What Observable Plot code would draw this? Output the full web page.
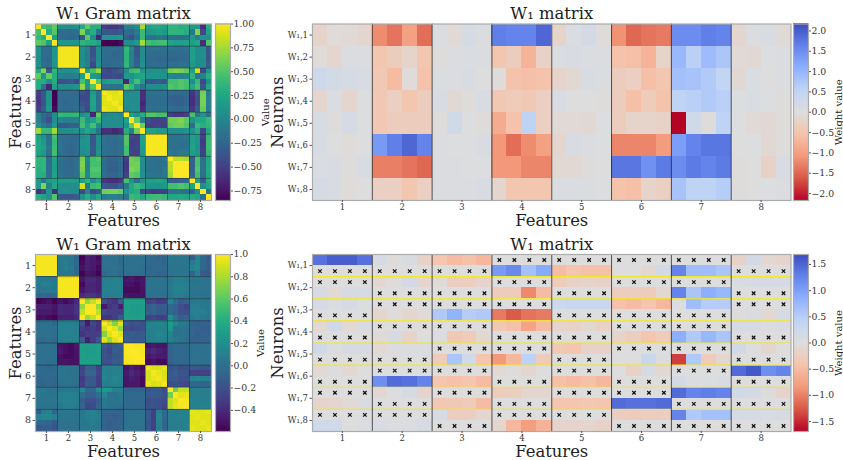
<!DOCTYPE html>
<html><head><meta charset="utf-8">
<script src="https://cdn.jsdelivr.net/npm/d3@7"></script>
<script src="https://cdn.jsdelivr.net/npm/@observablehq/plot@0.6"></script>
<style>
html,body{margin:0;padding:0;background:#fff}
#page{position:relative;width:843px;height:460px;overflow:hidden;font-family:"DejaVu Serif",serif}
#page svg{position:absolute;background:transparent}
</style></head><body><div id="page"></div>
<script>
const features = ["1","2","3","4","5","6","7","8"];
const neurons = ["W₁,1","W₁,2","W₁,3","W₁,4","W₁,5","W₁,6","W₁,7","W₁,8"];
const x = null;

// Gram matrices: lower triangle, in hundredths (the matrices are symmetric)
const gramTop = [
[100],
[45,100],
[40,30,100],
[55,50,20,100],
[8,-20,-20,12,97],
[8,-20,-22,12,97,97],
[6,-22,-25,12,97,97,97],
[8,-18,-22,10,97,97,97,97],
[25,65,-35,35,5,5,5,8,100],
[55,10,55,30,-5,-8,-8,-5,20,100],
[30,30,5,30,-40,-40,-35,-45,45,15,100],
[30,-15,-65,20,5,5,5,10,70,10,50,100],
[-50,-35,10,-85,-20,-20,-20,-22,-40,-45,15,-15,98],
[-55,-35,12,-85,-20,-22,-22,-20,-45,-45,20,-15,92,98],
[-55,-38,12,-85,-20,-25,-22,-20,-38,-42,22,-15,90,92,98],
[-50,-32,15,-80,-22,-22,-22,-20,-30,-45,20,-15,95,92,90,98],
[-5,-20,-30,5,38,35,35,38,5,15,-65,55,0,5,5,0,100],
[-5,-25,-40,5,0,-5,-5,-5,40,10,20,40,5,5,5,5,20,100],
[5,-10,-20,15,-35,-35,-30,-30,45,20,45,5,5,5,5,5,10,55,100],
[75,40,40,75,5,5,5,10,10,25,15,-15,-60,-60,-65,-60,30,-5,60,100],
[20,10,-15,45,-18,-20,-22,-22,5,10,-35,5,-15,-20,-20,-15,50,-45,-50,20,98],
[25,15,-15,40,-15,-20,-22,-20,10,12,-35,5,-15,-20,-22,-20,50,-50,-50,20,98,98],
[25,20,-12,42,-15,-22,-25,-20,8,10,-32,5,-18,-20,-20,-18,45,-50,-48,15,98,98,98],
[20,15,-15,45,-15,-20,-25,-20,5,10,-35,8,-15,-18,-20,-15,45,-48,-50,15,98,98,98,98],
[35,35,-20,22,-15,-22,-25,-18,60,0,45,50,-20,-28,-25,-20,-50,60,55,5,-15,-15,-18,-12,100],
[35,35,-20,18,-18,-22,-25,-18,65,-5,45,45,-22,-30,-28,-22,-55,60,60,5,-15,-15,-18,-15,80,100],
[30,35,-18,18,-18,-22,-22,-15,62,-5,50,50,-22,-30,-30,-22,-55,65,60,5,-15,-18,-18,-12,80,100,100],
[32,30,-18,22,-15,-20,-22,-15,55,0,45,45,-20,-25,-25,-20,-50,55,50,10,-12,-15,-15,-12,75,100,100,100],
[15,-10,15,20,18,18,18,15,20,35,5,25,-55,-60,-60,-55,45,10,-20,10,18,20,22,18,-30,-30,-28,-25,100],
[15,65,-5,25,5,5,5,5,88,-10,40,45,-35,-38,-38,-30,-10,25,40,30,10,10,8,12,45,45,50,45,20,100],
[-60,-45,10,-60,5,8,5,5,-45,-5,-45,-35,60,62,62,58,10,25,30,-45,-50,-55,-52,-50,-18,-15,-15,-18,-30,5,100],
[30,20,8,50,-35,-35,-35,-30,10,30,5,25,-8,-5,-5,-8,-15,40,35,25,40,42,42,38,25,25,28,25,30,25,-20,100]
];
const gramBottom = [
[98],
[98,98],
[98,98,98],
[98,98,98,98],
[5,5,5,3,98],
[5,8,8,5,98,98],
[3,3,5,3,98,98,98],
[-8,-5,-8,-5,98,98,98,98],
[-58,-55,-52,-58,-50,-55,-50,-40,100],
[-45,-45,-45,-50,-40,-42,-42,-35,75,100],
[-48,-48,-48,-52,-40,-42,-42,-35,85,100,100],
[-55,-52,-55,-58,-45,-45,-45,-40,100,75,85,100],
[-2,0,0,-5,8,10,10,8,-20,-48,-25,-35,100],
[-2,0,0,-2,10,10,10,8,-30,-35,-30,-35,88,100],
[0,0,0,-2,10,12,10,8,-35,-30,-30,-30,70,92,100],
[-5,-5,-2,-5,8,10,10,10,-15,-45,-30,-15,92,75,92,100],
[0,0,0,-2,-50,-52,-55,-50,32,30,30,32,-15,-22,-15,-12,100],
[0,0,0,-2,-48,-52,-55,-52,30,28,28,30,-20,-25,-12,-15,100,100],
[-2,0,0,-2,-52,-55,-55,-52,30,28,28,30,-18,-22,-15,-15,98,100,100],
[-2,0,-2,-2,-50,-50,-52,-52,32,30,30,32,-20,-20,-12,-15,98,98,100,100],
[-5,-5,-8,-5,2,2,2,0,-30,-12,-12,-28,10,10,10,8,-52,-45,-50,-55,95],
[-5,-5,-5,-5,2,2,0,0,-25,-8,-8,-25,12,8,10,10,-48,-40,-45,-52,90,98],
[-8,-5,-5,-8,2,2,0,0,-32,-15,-15,-30,15,10,15,12,-50,-45,-48,-55,90,95,98],
[-8,-8,-5,-8,0,0,0,-2,-30,-12,-15,-30,10,10,12,10,-50,-48,-48,-55,95,90,92,98],
[5,5,2,2,3,5,5,3,15,-5,-5,20,28,25,12,10,-8,-10,-10,-8,-20,-15,-15,-22,100],
[3,3,2,2,8,10,10,8,-2,-10,-10,-2,15,0,0,5,-5,-5,-5,-5,-15,-12,-15,-20,65,100],
[3,3,3,3,8,10,10,8,-12,-20,-20,-12,5,2,2,2,-5,-5,-5,-5,-22,-18,-20,-22,85,92,100],
[3,2,2,2,5,8,8,5,-8,-25,-22,-8,5,0,0,-2,-5,-5,-5,-5,-20,-18,-20,-25,85,95,98,100],
[-15,5,10,-10,2,3,3,2,3,8,10,5,-8,-8,-8,-10,0,0,0,0,-15,-28,12,-5,8,8,10,10,95],
[10,15,15,10,2,3,3,2,5,8,10,8,-10,-10,-12,-10,0,0,2,0,-15,-30,14,-5,8,10,10,10,92,95],
[-5,-5,-8,-15,0,2,2,0,5,5,8,5,-8,-12,-10,-8,0,0,0,0,-18,-28,12,-8,8,8,8,10,92,92,95],
[-15,-12,-12,-18,0,0,0,0,3,5,5,3,-10,-12,-10,-8,0,0,0,0,-18,-28,10,-8,8,8,10,10,95,92,92,95]
];

// Weight matrices: one row per line, 4 columns per feature
const weightsTop = [
[-.2,-.05,-.08,-.15, -1.2,-1.4,-1,-1.45, .05,-.08,.15,.05, 1.65,1.6,1.6,1.9, -.2,.08,.18,-.05, -1.15,-1.5,-1.4,-1.35, 1.5,1.5,1.65,1.6, -.15,.05,.1,-.07],
[-.05,-.15,.05,.05, -.5,-.35,-.2,-.5, -.02,.05,.08,.05, -.5,-.35,-.75,-.25, .08,.1,.05,.05, -.55,-.6,-.75,-.2, .95,.6,.9,.75, -.08,-.1,.03,.05],
[.3,.2,.15,.12, -.45,-.65,-.05,-.55, .05,.05,.1,0, -.03,-.55,-.6,-.55, -.2,-.1,.12,.05, -.35,-.3,-.6,-.5, .85,.8,.7,.5, -.1,.08,0,.05],
[-.15,.08,-.15,.02, -.45,-.3,-.5,-.35, .1,-.1,-.03,.1, -.45,-.4,-.45,-.3, .1,0,0,-.03, -.35,-.6,-.4,-.55, .55,.6,.7,.6, .03,.07,.03,-.03],
[.12,-.03,.15,.02, -.45,-.35,-.35,-.35, -.03,.25,.03,-.05, -.85,-.55,.55,-.3, -.08,-.08,-.1,.02, -.35,-.2,-.2,-.25, -2.17,.25,-.02,.55, .03,-.08,-.12,-.03],
[.12,.02,-.05,.02, 1.35,1.65,1.9,1.6, .05,.03,.03,.1, -1.1,-1.45,-1.2,-1, -.15,.1,.05,.03, -1.25,-1.25,-1.25,-1.05, 1.3,1.6,1.75,1.75, 0,.03,-.1,-.03],
[.08,.1,-.02,.12, -1.3,-1.3,-1.4,-1.5, .05,.05,.03,.03, -1.1,-1.1,-1.25,-1.25, -.1,-.1,-.02,0, 1.75,1.75,1.45,1.7, 1.5,1.7,1.6,1.7, -.02,0,-.25,.1],
[.15,.1,-.05,0, -.3,-.3,-.5,-.3, .05,.05,.05,.1, -.15,-.5,-.5,-.5, .08,.08,.05,.03, -.55,-.6,-.2,-.3, .8,.55,.55,.65, -.02,0,.02,.05]
];
// null (x) = masked weight
const weightsBottom = [
[1.4,1.55,1.55,1.4, .1,-.03,.08,-.2, -.4,-.5,-.45,-.55, x,x,x,x, x,x,x,x, x,x,x,x, x,x,x,x, -.2,.15,-.1,-.15],
[x,x,x,x, x,x,x,x, x,x,x,x, 1.05,1.2,.65,.9, -.5,-.4,-.45,-.45, 0,.02,-.1,.15, 1.25,.7,.7,.6, x,x,x,x],
[x,x,x,x, -.1,-.03,.15,-.12, -.05,-.25,-.25,-.15, x,x,x,x, -.3,-.2,-.15,-.2, x,x,x,x, x,x,x,x, .08,.1,.12,.12],
[.1,-.08,.1,.12, x,x,x,x, x,x,x,x, -.3,-.3,-.95,-.5, x,x,x,x, -.25,-.25,-.3,-.1, 1.25,.6,.85,.75, x,x,x,x],
[.12,.03,.1,.02, x,x,x,x, x,x,x,x, x,x,x,x, .25,.3,.3,.3, -.45,-.5,-.4,-.55, .05,.7,.5,.5, x,x,x,x],
[x,x,x,x, -.12,-.03,-.12,-.05, .55,.8,.5,.55, -1.05,-1.25,-1.1,-1.05, x,x,x,x, x,x,x,x, x,x,x,x, -.02,.08,-.1,.1],
[-.08,.2,-.08,.08, x,x,x,x, x,x,x,x, -.35,-.45,-.75,-.5, -.15,-.2,-.1,-.2, x,x,x,x, x,x,x,x, .12,.12,.05,.08],
[x,x,x,x, -.05,.1,-.15,0, .05,-.35,-.3,-.1, x,x,x,x, x,x,x,x, -.15,-.25,-.4,-.3, .85,.55,.75,.6, x,x,x,x],
[.2,.03,.1,.1, -.08,.05,.05,.05, x,x,x,x, x,x,x,x, -.35,-.4,-.2,-.2, x,x,x,x, x,x,x,x, .18,0,-.12,0],
[x,x,x,x, x,x,x,x, -.3,.6,.2,-.4, -.85,-.55,.45,-.3, x,x,x,x, 0,0,.3,.03, -1.4,.55,-.3,-.1, x,x,x,x],
[-.08,.03,-.1,0, x,x,x,x, x,x,x,x, -.08,-.03,-.12,0, x,x,x,x, 0,-.2,.12,-.1, x,x,x,x, 1.45,1.6,1.15,1.25],
[x,x,x,x, 1.15,1.45,1.4,1.25, -.4,-.45,-.4,-.5, x,x,x,x, -.45,-.5,-.45,-.55, x,x,x,x, .15,.05,.05,.08, x,x,x,x],
[x,x,x,x, -.1,.02,.1,-.15, x,x,x,x, -.3,-.25,-.12,-.12, x,x,x,x, x,x,x,x, 1.45,1.25,1.3,1.25, .2,.15,-.02,-.15],
[-.15,-.12,-.06,.08, x,x,x,x, -.35,-.35,-.3,-.5, x,x,x,x, -.4,-.4,-.35,-.4, 1.45,1.4,1.4,1.45, x,x,x,x, x,x,x,x],
[x,x,x,x, x,x,x,x, .1,-.25,-.25,-.12, x,x,x,x, x,x,x,x, -.25,-.3,-.25,-.25, 1.25,.55,.65,.65, .1,.12,.08,.12],
[.2,.2,0,.03, .08,.03,.05,.1, x,x,x,x, -.12,-.55,-.8,-.6, -.15,-.15,-.12,-.2, x,x,x,x, x,x,x,x, x,x,x,x]
];

const coolwarm = ["#b40426","#d95847","#f49a7b","#f5c4ac","#dddddd","#c0d4f5","#8db0fe","#6282ea","#3b4cc0"];
const gramTickSets = [[-.75,-.5,-.25,0,.25,.5,.75,1],[-.4,-.2,0,.2,.4,.6,.8,1]];
const weightTickSets = [[-2,-1.5,-1,-.5,0,.5,1,1.5,2],[-1.5,-1,-.5,0,.5,1,1.5]];

const page = document.getElementById("page");
const font = '"DejaVu Serif", serif';

function gramCells(tri){
  const out=[];
  tri.forEach((row,i)=>row.forEach((v,j)=>{
    out.push({c:j,r:i,v:v/100});
    if(i!==j) out.push({c:i,r:j,v:v/100});
  }));
  return out;
}
function weightCells(rows){
  const out=[];
  rows.forEach((row,i)=>row.forEach((v,j)=>out.push({c:j,r:i,v})));
  return out;
}
function place(svg,left,top){svg.style.left=left+"px";svg.style.top=top+"px";page.appendChild(svg);}

function heat({cells,nRows,color,left,top,width,mL,mR,mT,mB,yLabels,yTickAt,yFont,yLabelDx,yTitle,title,grid,yellow,xFont}){
  const feat=features.map((_,i)=>i*4+2);
  const labelFont=16.4;
  const masked=cells.filter(d=>d.v==null);
  const marks=[
    Plot.rect(masked,{x1:d=>d.c,x2:d=>d.c+1,y1:d=>d.r,y2:d=>d.r+1,fill:"#dddddd",shapeRendering:"crispEdges"}),
    Plot.rect(cells.filter(d=>d.v!=null),{x1:d=>d.c,x2:d=>d.c+1,y1:d=>d.r,y2:d=>d.r+1,fill:d=>d.v,shapeRendering:"crispEdges"}),
  ];
  if(masked.length) marks.push(Plot.dot(masked,{x:d=>d.c+.5,y:d=>d.r+.5,symbol:"times",r:1.75,stroke:"#111",strokeWidth:1.2}));
  if(yellow) marks.push(Plot.ruleY(yellow,{stroke:"#f2e829",strokeWidth:1.2}));
  marks.push(Plot.ruleX([4,8,12,16,20,24,28],{stroke:"#222",strokeOpacity:grid.x,strokeWidth:1}));
  if(grid.y) marks.push(Plot.ruleY([4,8,12,16,20,24,28],{stroke:"#222",strokeOpacity:grid.y,strokeWidth:1}));
  marks.push(Plot.frame({stroke:"#ababab",strokeWidth:1.2}));
  marks.push(Plot.axisX(feat,{anchor:"bottom",tickSize:2,tickPadding:1.5,fontSize:xFont,stroke:"#555",tickFormat:d=>features[(d-2)/4],label:null}));
  marks.push(Plot.axisY(yTickAt,{anchor:"left",tickSize:2.5,tickPadding:2,fontSize:yFont,stroke:"#555",tickFormat:(d,i)=>yLabels[i],label:null}));
  marks.push(Plot.text([title],{text:d=>d,frameAnchor:"top",dy:-10,fontSize:labelFont,fill:"#222",lineAnchor:"middle"}));
  marks.push(Plot.text(["Features"],{text:d=>d,frameAnchor:"bottom",dy:20.5,fontSize:labelFont,fill:"#222",lineAnchor:"middle"}));
  marks.push(Plot.text([yTitle],{text:d=>d,frameAnchor:"left",dx:yLabelDx,rotate:-90,textAnchor:"middle",fontSize:labelFont,fill:"#222"}));
  const svg=Plot.plot({width,height:230,marginLeft:mL,marginRight:mR,marginTop:mT,marginBottom:mB,
    style:{fontFamily:font,background:"transparent",color:"#333",overflow:"visible"},
    x:{domain:[0,32],axis:null},y:{domain:[nRows,0],axis:null},color,marks});
  place(svg,left,top);
}

function colorbar({color,lo,hi,ticks,fmt,left,top,label,labelDx}){
  const barVals=d3.range(256).map(i=>lo+(hi-lo)*(i+.5)/256);
  const step=(hi-lo)/256;
  const svg=Plot.plot({width:50,height:230,marginLeft:0,marginRight:35,marginTop:top.mT,marginBottom:top.mB,
    style:{fontFamily:font,background:"transparent",color:"#333",overflow:"visible"},
    x:{domain:[0,1],axis:null},y:{domain:[lo,hi],axis:null},color,
    marks:[
      Plot.rect(barVals,{x1:0,x2:1,y1:d=>d-step/2,y2:d=>d+step/2+step*.3,fill:d=>d,shapeRendering:"crispEdges"}),
      Plot.frame({stroke:"#ababab",strokeWidth:1.2}),
      Plot.axisY(ticks,{anchor:"right",tickSize:2,tickPadding:1,fontSize:9.3,stroke:"#555",tickFormat:fmt,label:null}),
      Plot.text([label],{text:d=>d,frameAnchor:"right",dx:labelDx,rotate:-90,textAnchor:"middle",fontSize:10,fill:"#222"})
    ]});
  place(svg,left,top.y);
}

const gramColor1={type:"linear",scheme:"viridis",domain:[-.85,1],clamp:true};
const gramColor2={type:"linear",scheme:"viridis",domain:[-.59,1],clamp:true};
const wDomain=m=>[-1,-.75,-.5,-.25,0,.25,.5,.75,1].map(t=>t*m);
const wColor1={type:"linear",domain:wDomain(2.17),range:coolwarm,clamp:true,interpolate:"rgb"};
const wColor2={type:"linear",domain:wDomain(1.69),range:coolwarm,clamp:true,interpolate:"rgb"};

const rowA={y:0,mT:23.5,mB:30};
const rowB={y:230,mT:24,mB:29};
const gramAt=[2,6,10,14,18,22,26,30];

[[gramTop,gramColor1,rowA],[gramBottom,gramColor2,rowB]].forEach(([g,c,row])=>{
  heat({cells:gramCells(g),nRows:32,color:c,left:0,top:row.y,width:212,mL:35,mR:1,mT:row.mT,mB:row.mB,
    yLabels:features,yTickAt:gramAt,yFont:9.5,xFont:8.5,yLabelDx:-20,yTitle:"Features",title:"W₁ Gram matrix",grid:{x:.45,y:.45}});
});
heat({cells:weightCells(weightsTop),nRows:8,color:wColor1,left:270,top:0,width:521,mL:42,mR:0.5,mT:rowA.mT,mB:rowA.mB,
  yLabels:neurons,yTickAt:[.5,1.5,2.5,3.5,4.5,5.5,6.5,7.5],yFont:8.5,xFont:8.5,yLabelDx:-35,yTitle:"Neurons",title:"W₁ matrix",grid:{x:.75,y:0}});
heat({cells:weightCells(weightsBottom),nRows:16,color:wColor2,left:270,top:230,width:521,mL:42,mR:0.5,mT:rowB.mT,mB:rowB.mB,
  yLabels:neurons,yTickAt:[1,3,5,7,9,11,13,15],yFont:8.5,xFont:8.5,yLabelDx:-35,yTitle:"Neurons",title:"W₁ matrix",grid:{x:.75,y:0},yellow:[2,4,6,8,10,12,14]});

colorbar({color:gramColor1,lo:-.85,hi:1,ticks:gramTickSets[0],fmt:d3.format(".2f"),left:215,top:rowA,label:"Value",labelDx:35});
colorbar({color:gramColor2,lo:-.59,hi:1,ticks:gramTickSets[1],fmt:d3.format(".1f"),left:215,top:rowB,label:"Value",labelDx:30});
colorbar({color:wColor1,lo:-2.17,hi:2.17,ticks:weightTickSets[0],fmt:d3.format(".1f"),left:793,top:rowA,label:"Weight value",labelDx:30.2});
colorbar({color:wColor2,lo:-1.69,hi:1.69,ticks:weightTickSets[1],fmt:d3.format(".1f"),left:793,top:rowB,label:"Weight value",labelDx:30.2});
</script></body></html>
